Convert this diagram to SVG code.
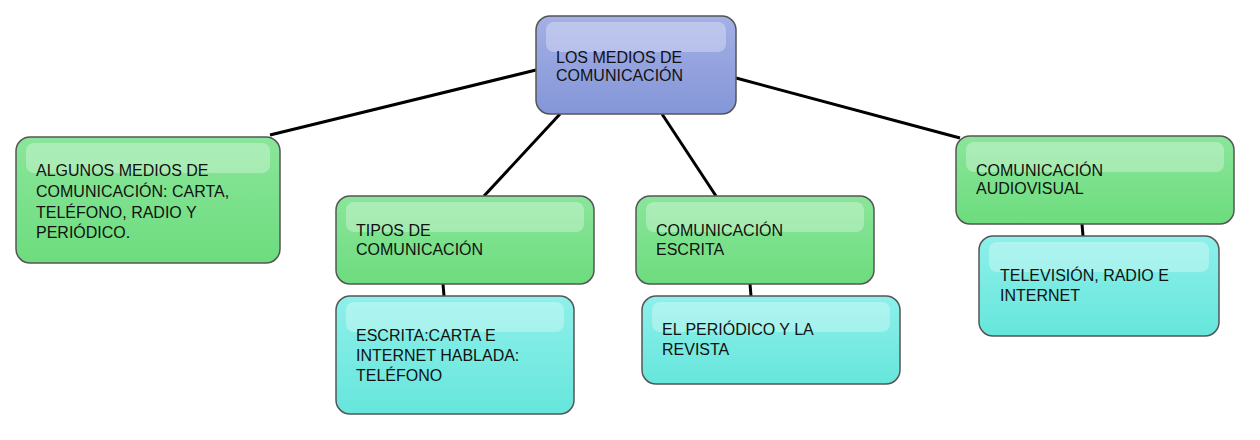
<svg xmlns="http://www.w3.org/2000/svg" width="1260" height="440" viewBox="0 0 1260 440">
<defs>
<linearGradient id="gb" x1="0" y1="0" x2="0" y2="1"><stop offset="0" stop-color="#a4b0e6"/><stop offset="1" stop-color="#8496d8"/></linearGradient>
<linearGradient id="gg" x1="0" y1="0" x2="0" y2="1"><stop offset="0" stop-color="#8ae69a"/><stop offset="1" stop-color="#6ddc7e"/></linearGradient>
<linearGradient id="gc" x1="0" y1="0" x2="0" y2="1"><stop offset="0" stop-color="#8ef0ea"/><stop offset="1" stop-color="#66e6dc"/></linearGradient>
</defs>
<style>
.b{stroke:#555;stroke-width:1.5}
.hl{fill:#fff;opacity:0.3}
text{font-family:"Liberation Sans",Arial,sans-serif;font-size:16px;fill:#111}
.c line{stroke:#000;stroke-width:3}
</style>
<rect width="1260" height="440" fill="#fff"/>
<g class="c">
<line x1="536" y1="70" x2="270" y2="135"/>
<line x1="560" y1="114" x2="484" y2="196"/>
<line x1="662" y1="114" x2="716" y2="196"/>
<line x1="736" y1="78" x2="960" y2="138"/>
<line x1="443" y1="284" x2="444" y2="296"/>
<line x1="750" y1="284" x2="751" y2="296"/>
<line x1="1082" y1="224" x2="1083" y2="236"/>
</g>
<g id="top"><rect class="b" x="536" y="16" width="200" height="98" rx="14" fill="url(#gb)"/><rect class="hl" x="546" y="22" width="180" height="30" rx="8"/><text x="556" y="63">LOS MEDIOS DE</text><text x="556" y="81">COMUNICACIÓN</text></g>
<g id="n1"><rect class="b" x="16" y="137" width="264" height="126" rx="14" fill="url(#gg)"/><rect class="hl" x="26" y="143" width="244" height="30" rx="8"/><text x="36" y="176">ALGUNOS MEDIOS DE</text><text x="36" y="197">COMUNICACIÓN: CARTA,</text><text x="36" y="218">TELÉFONO, RADIO Y</text><text x="36" y="238">PERIÓDICO.</text></g>
<g id="n2"><rect class="b" x="336" y="196" width="258" height="88" rx="14" fill="url(#gg)"/><rect class="hl" x="346" y="202" width="238" height="30" rx="8"/><text x="356" y="236">TIPOS DE</text><text x="356" y="255">COMUNICACIÓN</text></g>
<g id="n3"><rect class="b" x="636" y="196" width="238" height="88" rx="14" fill="url(#gg)"/><rect class="hl" x="646" y="202" width="218" height="30" rx="8"/><text x="656" y="236">COMUNICACIÓN</text><text x="656" y="255">ESCRITA</text></g>
<g id="n4"><rect class="b" x="956" y="136" width="278" height="88" rx="14" fill="url(#gg)"/><rect class="hl" x="966" y="142" width="258" height="30" rx="8"/><text x="976" y="176">COMUNICACIÓN</text><text x="976" y="194">AUDIOVISUAL</text></g>
<g id="c1"><rect class="b" x="336" y="296" width="238" height="118" rx="14" fill="url(#gc)"/><rect class="hl" x="346" y="302" width="218" height="30" rx="8"/><text x="356" y="341">ESCRITA:CARTA E</text><text x="356" y="361">INTERNET HABLADA:</text><text x="356" y="381">TELÉFONO</text></g>
<g id="c2"><rect class="b" x="642" y="296" width="258" height="88" rx="14" fill="url(#gc)"/><rect class="hl" x="652" y="302" width="238" height="30" rx="8"/><text x="662" y="335">EL PERIÓDICO Y LA</text><text x="662" y="355">REVISTA</text></g>
<g id="c3"><rect class="b" x="979" y="236" width="240" height="100" rx="14" fill="url(#gc)"/><rect class="hl" x="989" y="242" width="220" height="30" rx="8"/><text x="1000" y="281">TELEVISIÓN, RADIO E</text><text x="1000" y="301">INTERNET</text></g>
</svg>
